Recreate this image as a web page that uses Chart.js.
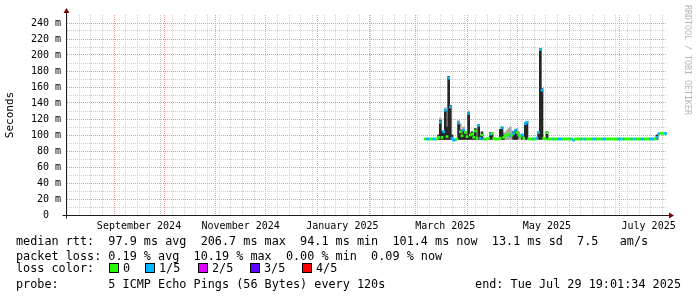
<!DOCTYPE html>
<html lang="en">
<head>
<meta charset="UTF-8">
<title>Smokeping - last 360 days</title>
<script src="https://cdn.jsdelivr.net/npm/chart.js"></script>
<style>
  body { margin: 0; background: #fff; }
  #wrap { position: relative; width: 697px; height: 297px; font-family: "DejaVu Sans Mono", monospace; color: #000; }
  #chart { position: absolute; left: 0; top: 0; }
  .line { position: absolute; left: 16px; font-size: 11.8px; line-height: 14px; white-space: pre; }
  .box { position: absolute; width: 8px; height: 8px; border: 1px solid #000; }
  #mark { position: absolute; left: 683px; top: 5px; writing-mode: vertical-rl; font-size: 8.3px; color: #b4b4b4; white-space: pre; }
</style>
</head>
<body>
<div id="wrap">
  <canvas id="chart" width="697" height="297"></canvas>
  <div id="mark">RRDTOOL / TOBI OETIKER</div>
  <div class="line" style="top:234px">median rtt:  97.9 ms avg  206.7 ms max  94.1 ms min  101.4 ms now  13.1 ms sd  7.5   am/s</div>
  <div class="line" style="top:249px">packet loss: 0.19 % avg  10.19 % max  0.00 % min  0.09 % now</div>
  <div class="line" style="top:261px">loss color:</div>
  <div id="lossLegend"></div>
  <div class="line" style="top:277px">probe:       5 ICMP Echo Pings (56 Bytes) every 120s</div>
  <div class="line" style="top:277px; left:auto; right:16px">end: Tue Jul 29 19:01:34 2025</div>
</div>

<script>
// graph window: 360 days ending at the "end:" stamp
const endTime = Date.UTC(2025, 6, 29, 19, 1, 34);
const spanDays = 360;
const startTime = endTime - spanDays * 864e5;

// x axis labels and the dates they are centred on
const monthLabels = ['September 2024', 'November 2024', 'January 2025', 'March 2025', 'May 2025', 'July 2025'];
const labelDates = ['2024-09-16', '2024-11-16', '2025-01-16', '2025-03-18T18:00', '2025-05-18T18:00', '2025-07-18T18:00'];

// one sample per day, first one 215 days after graph start (early March 2025)
const firstDay = 215;
// median rtt (ms)
const median = [
  95, 95, 95, 95, 95, 95, 95, 95, 97, 116,
  97, 104, 131, 98, 171, 135, 96, 93.5, 94, 95,
  115, 104, 99, 106, 103, 98, 127, 100, 101, 97,
  105, 96, 112, 96, 100, 95, 95, 95, 96, 101,
  102, 96, 95, 95, 95, 96, 109, 97, 99, 100,
  101, 99, 100, 102, 106, 103, 100, 98, 100, 96,
  114, 116, 95, 95, 95, 95, 95, 96, 103, 206.7,
  156, 96, 95, 103, 95, 95, 95, 95, 95, 95,
  95, 95, 95, 95, 95, 95, 95, 95, 95, 93.5,
  95, 95, 95, 95, 95, 95, 95, 95, 95, 95,
  95, 95, 95, 95, 95, 95, 95, 95, 95, 95,
  95, 95, 95, 95, 95, 95, 95, 95, 95, 95,
  95, 95, 95, 95, 95, 95, 95, 95, 95, 95,
  95, 95, 95, 95, 95, 95, 95, 95, 95, 97,
  101.5, 102, 102, 102, 102, 101.4
];
// lost pings out of 5
const loss = [
  0, 1, 1, 0, 0, 1, 1, 0, 0, 1,
  0, 1, 1, 0, 1, 1, 1, 1, 1, 0,
  1, 0, 0, 1, 0, 0, 1, 0, 0, 0,
  0, 0, 1, 1, 0, 1, 0, 0, 0, 1,
  0, 0, 0, 0, 0, 0, 1, 0, 0, 0,
  0, 1, 0, 1, 1, 0, 0, 0, 1, 0,
  1, 1, 0, 0, 0, 1, 0, 1, 1, 1,
  1, 0, 0, 0, 0, 0, 0, 1, 0, 0,
  1, 1, 1, 0, 0, 0, 0, 0, 1, 1,
  0, 0, 0, 0, 1, 0, 1, 0, 0, 0,
  0, 1, 1, 0, 0, 0, 0, 1, 1, 0,
  0, 0, 0, 0, 0, 0, 1, 1, 0, 1,
  0, 0, 0, 0, 1, 0, 1, 0, 0, 0,
  1, 1, 0, 0, 0, 1, 1, 1, 0, 1,
  1, 0, 0, 0, 1, 1
];

// smoke: spread of the pings where it shows
const smokeFloor = 94.5;
const smokeDays = [223, 224, 225, 226, 227, 228, 229, 230, 231, 235, 236, 237, 238, 239, 240, 241, 242, 243, 244, 245,
                   247, 248, 249, 253, 254, 255, 260, 261, 262, 268, 269, 270, 273, 275, 276, 283, 284, 285, 288, 354];
const smokeTop = [100, 118, 104, 105, 130, 110, 173, 137, 100, 116, 106, 101, 107, 104, 100, 128, 102, 104, 98, 108,
                  113, 99, 104, 97, 103, 103, 107, 110, 99, 104, 107, 104, 101, 115, 117, 104, 208, 158, 104, 100];
const faintDays = [224, 227, 235, 236, 238, 241, 262, 263, 264, 265, 266, 267, 270, 271];
const faintTop = [121, 134, 118, 114, 110, 130, 103, 103, 106, 108, 110, 105, 108, 104];

const lossNames = ['0', '1/5', '2/5', '3/5', '4/5'];
const lossColors = ['#26ff00', '#00b8ff', '#dd00ff', '#5e00ff', '#ff0000'];
const legendLeft = [109, 145, 198, 250, 302];

const mono = 'DejaVu Sans Mono';
const gridGray = '#d0d0d0';
const gridRed = '#f29494';

const dayOf = t => (t - startTime) / 864e5;

// weekly (Sunday) minor lines and month-start major lines
const weekTicks = [];
for (let t = Date.UTC(2024, 7, 4); t < endTime; t += 7 * 864e5) weekTicks.push(dayOf(t));
const monthTicks = [];
for (let m = 8; Date.UTC(2024, m, 1) < endTime; m++) monthTicks.push(dayOf(Date.UTC(2024, m, 1)));
const labelTicks = labelDates.map(s => dayOf(Date.parse(s + (s.length > 10 ? ':00Z' : 'T00:00:00Z'))));

// loss colour legend boxes
const lossLegend = document.getElementById('lossLegend');
lossNames.forEach((name, i) => {
  const box = document.createElement('div');
  box.className = 'box';
  box.style.left = legendLeft[i] + 'px';
  box.style.top = '263px';
  box.style.background = lossColors[i];
  lossLegend.appendChild(box);
  const txt = document.createElement('div');
  txt.className = 'line';
  txt.style.left = (legendLeft[i] + 14) + 'px';
  txt.style.top = '261px';
  txt.textContent = name;
  lossLegend.appendChild(txt);
});

// axis lines with the little rrdtool arrows
const rrdAxes = {
  id: 'rrdAxes',
  afterDraw(chart) {
    const { ctx, chartArea: a } = chart;
    const ax = Math.round(a.left) - 0.5;
    const ay = Math.round(a.bottom) + 0.5;
    ctx.save();
    ctx.strokeStyle = '#1f1f1f';
    ctx.lineWidth = 1;
    ctx.beginPath();
    ctx.moveTo(ax - 4, ay);
    ctx.lineTo(a.right + 3, ay);
    ctx.moveTo(ax, ay + 3);
    ctx.lineTo(ax, a.top - 3);
    ctx.stroke();
    ctx.fillStyle = '#800000';
    ctx.beginPath();
    ctx.moveTo(a.right + 7, ay);
    ctx.lineTo(a.right + 2, ay - 3);
    ctx.lineTo(a.right + 2, ay + 3);
    ctx.fill();
    ctx.beginPath();
    ctx.moveTo(ax, a.top - 7);
    ctx.lineTo(ax - 3, a.top - 2);
    ctx.lineTo(ax + 3, a.top - 2);
    ctx.fill();
    ctx.restore();
  }
};

// a time axis that only carries grid lines
const gridAxis = (ticks, color, z) => ({
  type: 'linear', position: 'bottom', min: 0, max: spanDays, offset: false,
  afterBuildTicks: s => { s.ticks = ticks.map(v => ({ value: v })); },
  afterFit: s => { s.height = 0; },
  ticks: { display: false },
  grid: { offset: false, color: color, drawTicks: false, z: z },
  border: { display: false, dash: [1, 1] }
});

new Chart(document.getElementById('chart'), {
  type: 'bar',
  data: {
    datasets: [
      {
        label: 'median rtt',
        data: median.map((v, i) => ({ x: firstDay + i, y: [v - 1.25, v + 1.25] })),
        backgroundColor: loss.map(l => lossColors[l]),
        order: 1
      },
      {
        label: 'smoke',
        data: smokeDays.map((d, i) => ({ x: d, y: [smokeFloor, smokeTop[i]] })),
        backgroundColor: '#262626',
        order: 2
      },
      {
        label: 'smoke faint',
        data: faintDays.map((d, i) => ({ x: d, y: [smokeFloor, faintTop[i]] })),
        backgroundColor: '#a8a8a8',
        order: 3
      }
    ]
  },
  options: {
    responsive: false,
    animation: false,
    layout: { padding: { left: 0, top: 15, right: 30, bottom: 62 } },
    datasets: { bar: { grouped: false, barThickness: 2, borderWidth: 0, borderSkipped: false } },
    plugins: { legend: { display: false }, tooltip: { enabled: false } },
    scales: {
      x: gridAxis(weekTicks, gridGray, -2),
      xm: gridAxis(monthTicks, gridRed, -1),
      x2: {
        type: 'linear', position: 'bottom', weight: 1, min: 0, max: spanDays, offset: false,
        afterBuildTicks: s => { s.ticks = labelTicks.map(v => ({ value: v })); },
        afterFit: s => { s.height = 20; },
        ticks: { autoSkip: false, maxRotation: 0, padding: 5, color: '#000',
                 font: { family: mono, size: 10 }, callback: (v, i) => monthLabels[i] },
        grid: { display: false, offset: false, drawTicks: false },
        border: { display: false }
      },
      y: {
        min: 0, max: 250,
        afterFit: s => { s.width = 67; },
        ticks: { stepSize: 10, autoSkip: false, padding: 6, color: '#000', font: { family: mono, size: 10 },
                 callback: v => v % 20 ? '' : (v === 0 ? '0  ' : v + ' m') },
        grid: {
          drawTicks: false,
          z: -1,
          color: c => {
            const v = c.tick ? c.tick.value : 0;
            if (v === 0 || v === 250) return 'transparent';
            return v % 20 === 0 ? gridRed : gridGray;
          }
        },
        border: { display: false, dash: [1, 1] },
        title: { display: true, text: 'Seconds', color: '#000', font: { family: mono, size: 11 }, padding: { top: 4, bottom: 0 } }
      }
    }
  },
  plugins: [rrdAxes]
});
</script>
</body>
</html>
